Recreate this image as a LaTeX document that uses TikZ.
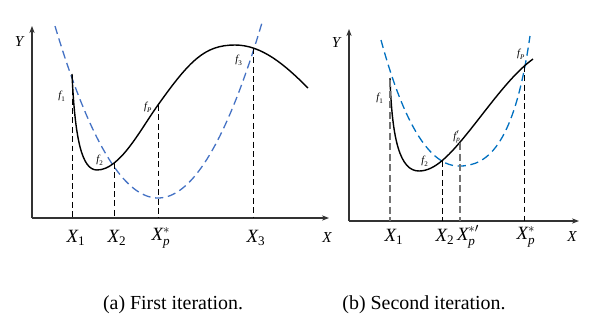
\documentclass[tikz,border=0pt]{standalone}
\usepackage{amsmath}
\usepackage{fontspec}
\setmainfont{Liberation Serif}
\usetikzlibrary{arrows.meta}

\definecolor{fitblue}{RGB}{68,114,196}
\definecolor{fitblueb}{RGB}{0,112,192}
\newcommand\ti[1]{\text{\itshape #1}}
\newcommand\tu[1]{\text{#1}}

\begin{document}
\begin{tikzpicture}[x=0.03cm,y=-0.03cm,
  axis/.style={line width=1.1pt,black!80,-{Stealth[length=6pt,width=4.5pt]}},
  curve/.style={line width=1.2pt},
  fitline/.style={line width=1.1pt,dash pattern=on 7pt off 4pt},
  drop/.style={line width=0.8pt,dash pattern=on 5pt off 3pt},
  dropg/.style={line width=1.2pt,black!55,dash pattern=on 6pt off 3pt},
  flbl/.style={font=\fontsize{9}{10}\selectfont,inner sep=0pt},
  xlbl/.style={font=\fontsize{16}{18}\selectfont,inner sep=0pt},
  albl/.style={font=\fontsize{13}{15}\selectfont\itshape,inner sep=0pt},
  captxt/.style={font=\fontsize{17}{19}\selectfont,inner sep=0pt}]
\useasboundingbox (0,0) rectangle (603,326);

% first iteration
\coordinate (oa) at (32,218);
\coordinate (ya) at (32,26);
\coordinate (xa) at (329,218);
\draw[axis] (oa) -- (ya);
\draw[axis] (oa) -- (xa);
\node[albl] (Ya) at (19,42) {Y};
\node[albl] (Xa) at (327,238) {X};

\draw[fitline,fitblue,domain=55:262,samples=80,variable=\t]
  plot (\t,{198-0.0162*(\t-158)*(\t-158)});
\draw[curve] (72,74) .. controls (75,140) and (82,170) .. (97,170)
  .. controls (120,170) and (140,130) .. (158,105)
  .. controls (190,60) and (205,45) .. (235,45)
  .. controls (262,45) and (285,65) .. (308,88);

\coordinate (pa1) at (72,80);
\coordinate (pa2) at (114,163);
\coordinate (pap) at (158,105);
\coordinate (pa3) at (253,48);
\coordinate (ba1) at (72,218);
\coordinate (ba2) at (114,218);
\coordinate (bap) at (158,218);
\coordinate (ba3) at (253,218);
\draw[drop] (pa1) -- (ba1);
\draw[drop] (pa2) -- (ba2);
\draw[drop] (pap) -- (bap);
\draw[drop] (pa3) -- (ba3);

\node[flbl] (fa1) at (62,96) {$\ti{f}_{\tu{1}}$};
\node[flbl] (fa2) at (100,160) {$\ti{f}_{\tu{2}}$};
\node[flbl] (fap) at (148,107) {$\ti{f}_{\ti{P}}$};
\node[flbl] (fa3) at (239,60) {$\ti{f}_{\tu{3}}$};

\node[xlbl] (Xa1) at (76,238) {$\ti{X}_{\tu{1}}$};
\node[xlbl] (Xa2) at (117,238) {$\ti{X}_{\tu{2}}$};
\node[xlbl] (Xap) at (161,238) {$\ti{X}_{\ti{p}}^{*}$};
\node[xlbl] (Xa3) at (256,238) {$\ti{X}_{\tu{3}}$};

\node[captxt] (capa) at (173,305) {(a) First iteration.};

% second iteration
\coordinate (ob) at (349,221);
\coordinate (yb) at (349,29);
\coordinate (xb) at (579,221);
\draw[axis] (ob) -- (yb);
\draw[axis] (ob) -- (xb);
\node[albl] (Yb) at (336,43) {Y};
\node[albl] (Xb) at (572,237) {X};

\draw[fitline,fitblueb] (381,40) .. controls (400,110) and (425,165) .. (458,166)
  .. controls (490,167) and (515,140) .. (530,36);
\draw[curve] (390,78) .. controls (392,140) and (400,171) .. (419,171)
  .. controls (435,171) and (450,155) .. (470,130)
  .. controls (490,105) and (512,74) .. (533,59);

\coordinate (pb1) at (390,80);
\coordinate (pb2) at (442,161);
\coordinate (pbq) at (460,143);
\coordinate (pbp) at (524,66);
\coordinate (bb1) at (390,221);
\coordinate (bb2) at (442,221);
\coordinate (bbq) at (460,221);
\coordinate (bbp) at (524,221);
\draw[dropg] (pb1) -- (bb1);
\draw[drop] (pb2) -- (bb2);
\draw[dropg] (pbq) -- (bbq);
\draw[drop] (pbp) -- (bbp);

\node[flbl] (fb1) at (380,98) {$\ti{f}_{\tu{1}}$};
\node[flbl] (fb2) at (425,161) {$\ti{f}_{\tu{2}}$};
\node[flbl] (fbq) at (457,137) {$\ti{f}'_{\ti{p}}$};
\node[flbl] (fbp) at (521,54) {$\ti{f}_{\ti{P}}$};

\node[xlbl] (Xb1) at (394,237) {$\ti{X}_{\tu{1}}$};
\node[xlbl] (Xb2) at (445,237) {$\ti{X}_{\tu{2}}$};
\node[xlbl] (Xbq) at (468,237) {$\ti{X}_{\ti{p}}^{*\prime}$};
\node[xlbl] (Xbp) at (526,237) {$\ti{X}_{\ti{p}}^{*}$};

\node[captxt] (capb) at (424,305) {(b) Second iteration.};
\end{tikzpicture}
\end{document}
